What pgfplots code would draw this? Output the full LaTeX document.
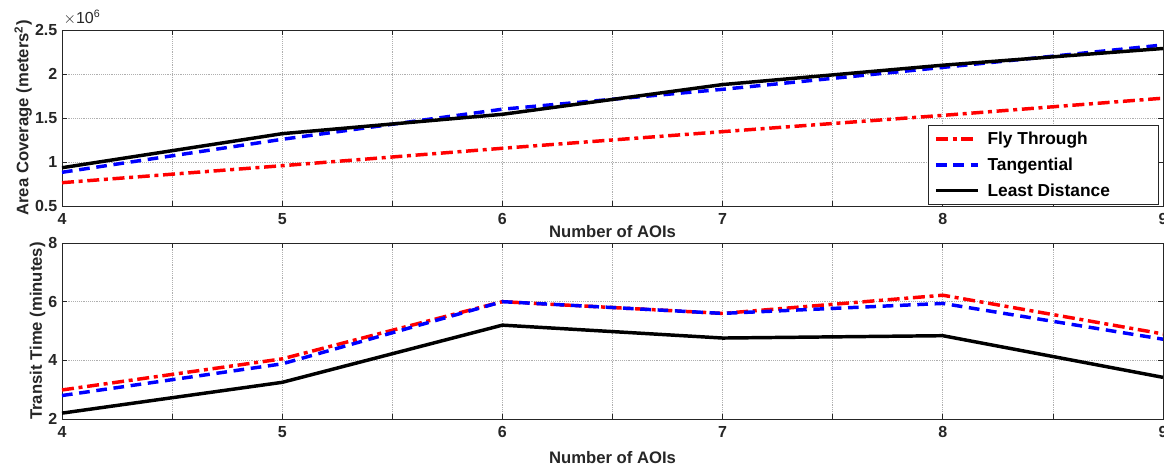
\documentclass[border=0pt]{standalone}
\usepackage{pgfplots}
\pgfplotsset{compat=1.18}
\usepackage{fontspec}
\setmainfont{Liberation Sans}

\definecolor{axgray}{RGB}{38,38,38}
\definecolor{gridgray}{RGB}{175,175,175}

\pgfplotsset{
  aoi/.style={
    scale only axis,
    width=825.75pt, height=132pt,
    xmin=4, xmax=9,
    xtick={4,4.5,...,9}, xticklabels={4,,5,,6,,7,,8,,9},
    grid=major, grid style={densely dotted, gridgray, line width=0.5pt},
    axis line style={axgray, line width=0.6pt},
    tick style={axgray, line width=0.6pt},
    tick align=inside, major tick length=4pt,
    tick label style={font=\fontsize{12}{14}\selectfont\bfseries, text=axgray},
    xticklabel style={yshift=-2.25pt},
    label style={font=\fontsize{12.5}{15}\selectfont\bfseries, text=axgray},
    ylabel style={yshift=-4.5pt},
    /pgf/number format/assume math mode=true,
    xlabel={Number of AOIs},
    legend image code/.code={\draw[#1] (0pt,0pt) -- (31.5pt,0pt);},
  },
  fly/.style={red, line width=2.6pt, line join=round, dash pattern=on 9pt off 3.5pt on 3pt off 3.5pt},
  tan/.style={blue, line width=2.6pt, line join=round, dash pattern=on 8pt off 5pt},
  least/.style={black, line width=2.6pt, line join=round},
}

\begin{document}
\begin{tikzpicture}
  \begin{axis}[aoi, name=top,
      at={(0pt,0pt)}, anchor=north west,
      ymin=5e5, ymax=2.5e6,
      ytick={5e5,1e6,1.5e6,2e6,2.5e6},
      yticklabels={0.5,1,1.5,2,2.5},
      scaled y ticks=false,
      xlabel style={yshift=6.25pt},
      ylabel={Area Coverage (meters\textsuperscript{2})},
      legend style={at={(axis description cs:1,0)}, anchor=south east,
        xshift=-3pt, yshift=1.2pt, draw=axgray, line width=0.6pt,
        font=\fontsize{13}{15}\selectfont\bfseries,
        inner xsep=4.5pt, inner ysep=2.5pt, row sep=4.5pt,
        /tikz/every odd column/.append style={column sep=4pt}},
      legend cell align=left,
      after end axis/.code={
        \node[anchor=south west, inner sep=0pt, text=axgray,
          font=\fontsize{12}{14}\selectfont]
          at (rel axis cs:0,1) [yshift=4pt,xshift=1pt] {$\times$10\textsuperscript{6}};
      },
    ]
    \addplot[fly] coordinates {(4,0.765e6) (5,0.958e6) (6,1.156e6) (7,1.345e6) (8,1.530e6) (9,1.725e6)};
    \addlegendentry{Fly Through}
    \addplot[tan] coordinates {(4,0.883e6) (5,1.258e6) (6,1.600e6) (7,1.826e6) (8,2.075e6) (9,2.330e6)};
    \addlegendentry{Tangential}
    \addplot[least] coordinates {(4,0.935e6) (5,1.322e6) (6,1.542e6) (7,1.880e6) (8,2.100e6) (9,2.290e6)};
    \addlegendentry{Least Distance\hspace*{30pt}}
  \end{axis}

  \begin{axis}[aoi, name=bot,
      at={(0pt,-159.75pt)}, anchor=north west,
      ymin=2, ymax=8, ytick={2,4,6,8},
      xlabel style={yshift=-3pt},
      ylabel={Transit Time (minutes)},
    ]
    \addplot[fly] coordinates {(4,2.99) (5,4.05) (6,6.00) (7,5.60) (8,6.22) (9,4.90)};
    \addplot[tan] coordinates {(4,2.80) (5,3.88) (6,6.00) (7,5.60) (8,5.94) (9,4.72)};
    \addplot[least] coordinates {(4,2.20) (5,3.25) (6,5.20) (7,4.76) (8,4.84) (9,3.42)};
  \end{axis}

  \pgfresetboundingbox
  \path (-46.5pt,22.5pt) rectangle (826.5pt,-326.25pt);
\end{tikzpicture}
\end{document}
